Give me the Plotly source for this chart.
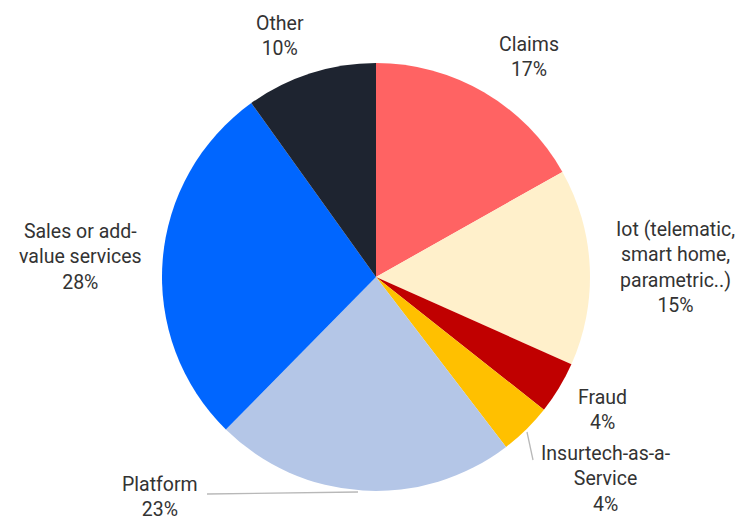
import plotly.graph_objects as go

# Share of insurtech use cases (%)
categories = ["Claims", "Iot (telematic,<br>smart home,<br>parametric..)", "Fraud",
              "Insurtech-as-a-<br>Service", "Platform", "Sales or add-<br>value services", "Other"]
values = [17, 15, 4, 4, 23, 28, 10]
colors = ["#FF6363", "#FFF0CB", "#C00000", "#FFC000", "#B4C6E7", "#0066FF", "#1E2430"]

W, H = 737, 520
CX, CY, R = 376, 277, 214

# label block centres (pixels) for each slice, in slice order
label_pos = [(529, 57), (675, 267), (602, 410), (606, 479), (160, 497), (80, 257), (280, 36)]

fig = go.Figure(go.Pie(
    labels=categories,
    values=values,
    marker=dict(colors=colors, line=dict(width=0)),
    sort=False,
    direction="clockwise",
    rotation=0,
    textinfo="none",
    hoverinfo="label+percent",
    domain=dict(x=[(CX - R) / W, (CX + R) / W], y=[1 - (CY + R) / H, 1 - (CY - R) / H]),
    showlegend=False,
))

for cat, val, (px, py) in zip(categories, values, label_pos):
    fig.add_annotation(
        x=px / W, y=1 - py / H, xref="paper", yref="paper",
        text=f"{cat}<br>{val}%", showarrow=False,
        xanchor="center", yanchor="middle", align="center",
        font=dict(family="Roboto", size=19.5, color="#333333"),
    )

# leader lines for the two labels that sit away from their slices
leaders = [((207, 494), (358, 492)), ((527, 432), (533, 460))]
for (x0, y0), (x1, y1) in leaders:
    fig.add_shape(type="line", xref="paper", yref="paper",
                  x0=x0 / W, y0=1 - y0 / H, x1=x1 / W, y1=1 - y1 / H,
                  line=dict(color="#b8b8b8", width=1.3))

fig.update_layout(
    width=W, height=H,
    margin=dict(l=0, r=0, t=0, b=0),
    paper_bgcolor="white", plot_bgcolor="white",
)

fig.write_html("out.html")
